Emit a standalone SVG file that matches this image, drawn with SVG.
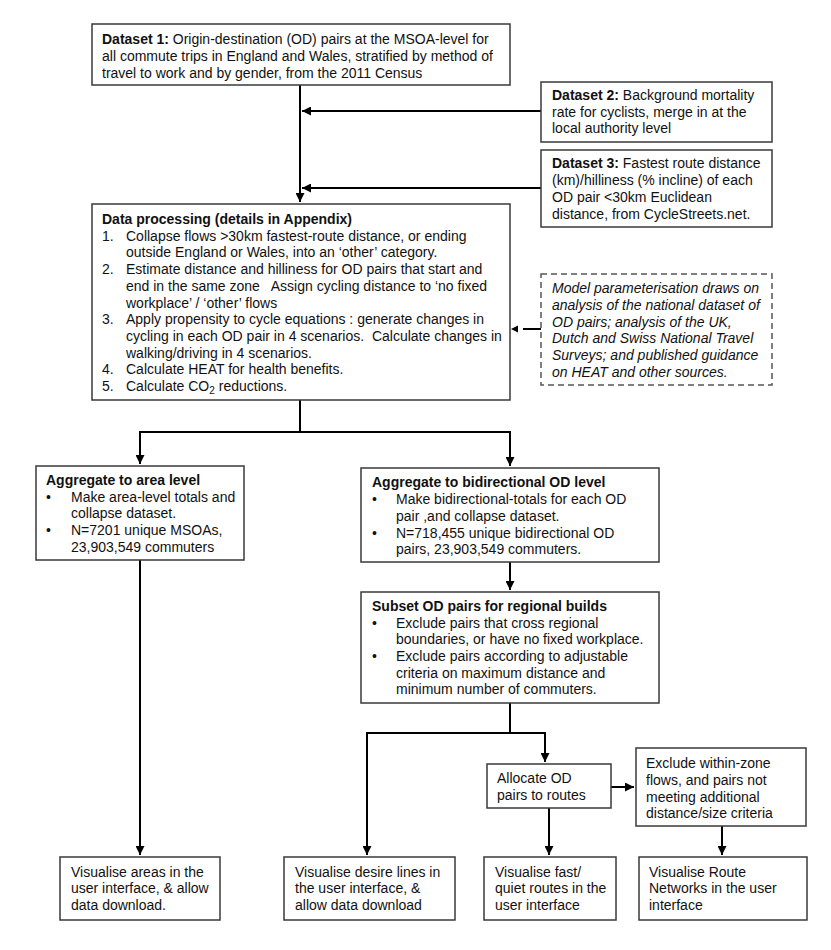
<svg xmlns="http://www.w3.org/2000/svg" width="831" height="950" viewBox="0 0 831 950">
<style>
text{font-family:"Liberation Sans",Arial,sans-serif;font-size:14px;fill:#111}
.b{font-weight:bold}
.i{font-style:italic}
.box{fill:#fff;stroke:#3a3a3a;stroke-width:1.5}
.dash{fill:#fff;stroke:#555;stroke-width:1.5;stroke-dasharray:6,4}
.c{fill:none;stroke:#000;stroke-width:2}
</style>
<defs>
<marker id="ah" viewBox="0 0 10 10" refX="10" refY="5" markerWidth="4.5" markerHeight="4.5" orient="auto" markerUnits="strokeWidth">
<path d="M0,0 L10,5 L0,10 z" fill="#000"/>
</marker>
</defs>
<rect width="831" height="950" fill="#fff"/>

<g id="connectors">
<path class="c" d="M300,85 V202" marker-end="url(#ah)"/>
<path class="c" d="M541,111 H302" marker-end="url(#ah)"/>
<path class="c" d="M541,188 H302" marker-end="url(#ah)"/>
<path class="c" d="M541,329 H523"/>
<path d="M511,329 L518,325.5 L518,332.5 z" fill="#000"/>
<path class="c" d="M300,400 V432"/>
<path class="c" d="M140,432 H510"/>
<path class="c" d="M140,431 V464" marker-end="url(#ah)"/>
<path class="c" d="M510,431 V466" marker-end="url(#ah)"/>
<path class="c" d="M510,562 V590" marker-end="url(#ah)"/>
<path class="c" d="M510,703 V733"/>
<path class="c" d="M366,733 H546"/>
<path class="c" d="M545,732 V762" marker-end="url(#ah)"/>
<path class="c" d="M367,732 V855" marker-end="url(#ah)"/>
<path class="c" d="M140,560 V855" marker-end="url(#ah)"/>
<path class="c" d="M549,808 V855" marker-end="url(#ah)"/>
<path class="c" d="M611,787 H634" marker-end="url(#ah)"/>
<path class="c" d="M722,826 V855" marker-end="url(#ah)"/>
</g>

<g id="dataset1">
<rect class="box" x="92" y="24" width="418" height="61"/>
<text x="102" y="44"><tspan class="b">Dataset 1:</tspan> Origin-destination (OD) pairs at the MSOA-level for</text>
<text x="102" y="61">all commute trips in England and Wales, stratified by method of</text>
<text x="102" y="78">travel to work and by gender, from the 2011 Census</text>
</g>

<g id="dataset2">
<rect class="box" x="541" y="82" width="231" height="60"/>
<text x="552" y="100"><tspan class="b">Dataset 2:</tspan> Background mortality</text>
<text x="552" y="117">rate for cyclists, merge in at the</text>
<text x="552" y="133">local authority level</text>
</g>

<g id="dataset3">
<rect class="box" x="541" y="150" width="231" height="77"/>
<text x="552" y="168"><tspan class="b">Dataset 3:</tspan> Fastest route distance</text>
<text x="552" y="185">(km)/hilliness (% incline) of each</text>
<text x="552" y="202">OD pair &lt;30km Euclidean</text>
<text x="552" y="219">distance, from CycleStreets.net.</text>
</g>

<g id="processing">
<rect class="box" x="92" y="204" width="418" height="196"/>
<text class="b" x="102" y="224">Data processing (details in Appendix)</text>
<text x="102" y="240.7">1.</text><text x="126" y="240.7">Collapse flows &gt;30km fastest-route distance, or ending</text>
<text x="126" y="257.4">outside England or Wales, into an ‘other’ category.</text>
<text x="102" y="274.1">2.</text><text x="126" y="274.1">Estimate distance and hilliness for OD pairs that start and</text>
<text x="126" y="290.8" xml:space="preserve">end in the same zone   Assign cycling distance to ‘no fixed</text>
<text x="126" y="307.5">workplace’ / ‘other’ flows</text>
<text x="102" y="324.2">3.</text><text x="126" y="324.2">Apply propensity to cycle equations : generate changes in</text>
<text x="126" y="340.9" xml:space="preserve">cycling in each OD pair in 4 scenarios.  Calculate changes in</text>
<text x="126" y="357.6">walking/driving in 4 scenarios.</text>
<text x="102" y="374.3">4.</text><text x="126" y="374.3">Calculate HEAT for health benefits.</text>
<text x="102" y="391">5.</text><text x="126" y="391">Calculate CO<tspan font-size="10" dy="3">2</tspan><tspan dy="-3"> reductions.</tspan></text>
</g>

<g id="parameterisation">
<rect class="dash" x="541" y="274" width="231" height="111"/>
<text class="i" x="552" y="293">Model parameterisation draws on</text>
<text class="i" x="552" y="310">analysis of the national dataset of</text>
<text class="i" x="552" y="327">OD pairs; analysis of the UK,</text>
<text class="i" x="552" y="343">Dutch and Swiss National Travel</text>
<text class="i" x="552" y="360">Surveys; and published guidance</text>
<text class="i" x="552" y="377">on HEAT and other sources.</text>
</g>

<g id="area">
<rect class="box" x="36" y="466" width="208" height="94"/>
<text class="b" x="46" y="485">Aggregate to area level</text>
<text x="46" y="502">•</text><text x="71" y="502">Make area-level totals and</text>
<text x="71" y="518">collapse dataset.</text>
<text x="46" y="535">•</text><text x="71" y="535">N=7201 unique MSOAs,</text>
<text x="71" y="552">23,903,549 commuters</text>
</g>

<g id="bidirectional">
<rect class="box" x="361" y="468" width="298" height="94"/>
<text class="b" x="372" y="487">Aggregate to bidirectional OD level</text>
<text x="372" y="504">•</text><text x="396" y="504">Make bidirectional-totals for each OD</text>
<text x="396" y="521">pair ,and collapse dataset.</text>
<text x="372" y="538">•</text><text x="396" y="538">N=718,455 unique bidirectional OD</text>
<text x="396" y="554">pairs, 23,903,549 commuters.</text>
</g>

<g id="subset">
<rect class="box" x="361" y="592" width="298" height="111"/>
<text class="b" x="372" y="611">Subset OD pairs for regional builds</text>
<text x="372" y="628">•</text><text x="396" y="628">Exclude pairs that cross regional</text>
<text x="396" y="644">boundaries, or have no fixed workplace.</text>
<text x="372" y="661">•</text><text x="396" y="661">Exclude pairs according to adjustable</text>
<text x="396" y="678">criteria on maximum distance and</text>
<text x="396" y="694">minimum number of commuters.</text>
</g>

<g id="allocate">
<rect class="box" x="487" y="764" width="124" height="44"/>
<text x="497" y="783">Allocate OD</text>
<text x="497" y="800">pairs to routes</text>
</g>

<g id="exclude">
<rect class="box" x="636" y="748" width="170" height="78"/>
<text x="646" y="768">Exclude within-zone</text>
<text x="646" y="785">flows, and pairs not</text>
<text x="646" y="802">meeting additional</text>
<text x="646" y="818">distance/size criteria</text>
</g>

<g id="vis-areas">
<rect class="box" x="60" y="857" width="160" height="63"/>
<text x="71" y="877">Visualise areas in the</text>
<text x="71" y="893">user interface, &amp; allow</text>
<text x="71" y="910">data download.</text>
</g>

<g id="vis-desire">
<rect class="box" x="284" y="857" width="171" height="63"/>
<text x="295" y="877">Visualise desire lines in</text>
<text x="295" y="893">the user interface, &amp;</text>
<text x="295" y="910">allow data download</text>
</g>

<g id="vis-routes">
<rect class="box" x="484" y="857" width="132" height="63"/>
<text x="495" y="877">Visualise fast/</text>
<text x="495" y="893">quiet routes in the</text>
<text x="495" y="910">user interface</text>
</g>

<g id="vis-networks">
<rect class="box" x="639" y="857" width="168" height="63"/>
<text x="649" y="877">Visualise Route</text>
<text x="649" y="893">Networks in the user</text>
<text x="649" y="910">interface</text>
</g>
</svg>
